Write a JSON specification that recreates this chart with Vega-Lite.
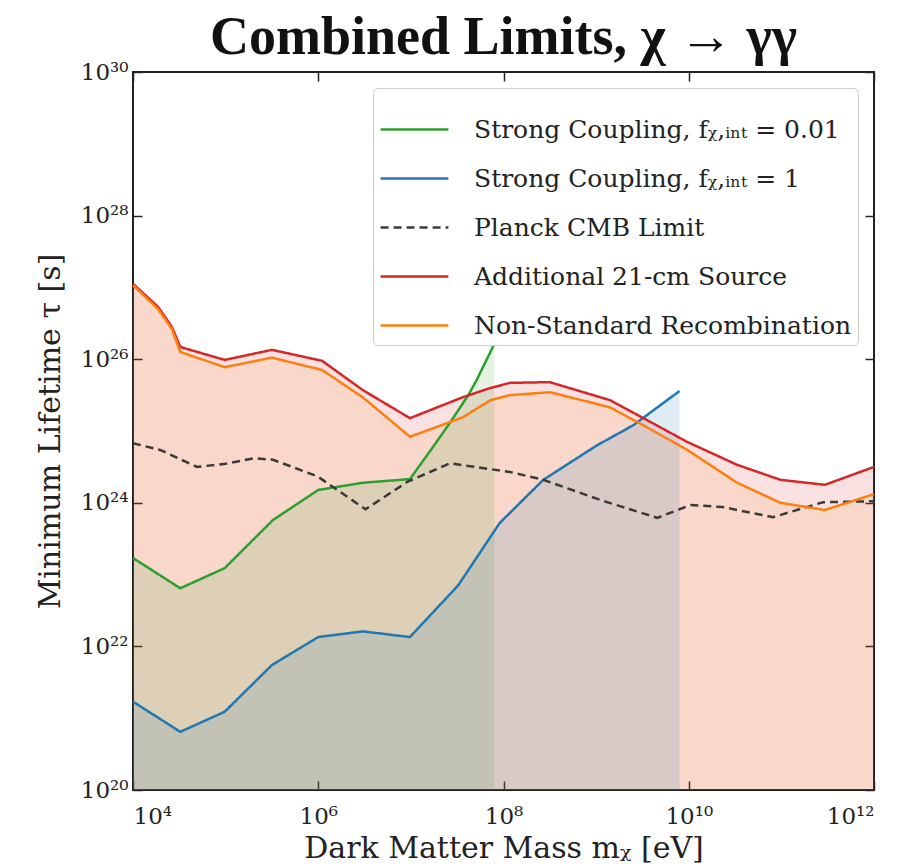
{
  "$schema": "https://vega.github.io/schema/vega-lite/v6.json",
  "autosize": "none",
  "width": 741,
  "height": 718,
  "padding": {"left": 133, "top": 72, "right": 26, "bottom": 77},
  "background": "white",
  "title": {
    "text": "Combined Limits, χ → γγ",
    "font": "Liberation Serif",
    "fontSize": 54,
    "fontWeight": "bold",
    "color": "#111111",
    "anchor": "middle",
    "offset": -4
  },
  "config": {
    "view": {"stroke": "#222222", "strokeWidth": 2},
    "axis": {
      "domain": false,
      "grid": false,
      "tickColor": "#222222",
      "tickWidth": 1.5,
      "tickSize": -9,
      "labelFont": "DejaVu Serif",
      "labelFontSize": 23,
      "labelColor": "#222222",
      "titleFont": "DejaVu Serif",
      "titleFontSize": 30,
      "titleFontWeight": "normal",
      "titleColor": "#222222"
    },
    "legend": {
      "orient": "top-right",
      "offset": 16,
      "title": null,
      "labelFont": "DejaVu Serif",
      "labelFontSize": 25,
      "labelColor": "#222222",
      "labelLimit": 600,
      "labelOffset": 24,
      "symbolType": "stroke",
      "symbolSize": 4600,
      "symbolStrokeWidth": 2.5,
      "rowPadding": -5,
      "padding": 6,
      "strokeColor": "#cccccc",
      "fillColor": "white",
      "cornerRadius": 5
    }
  },
  "data": {
    "values": [
      {"series": "Strong Coupling, fᵪ,ᵢₙₜ = 0.01", "m": 1e4, "tau": 1.7e23},
      {"series": "Strong Coupling, fᵪ,ᵢₙₜ = 0.01", "m": 3.24e4, "tau": 6.46e22},
      {"series": "Strong Coupling, fᵪ,ᵢₙₜ = 0.01", "m": 9.77e4, "tau": 1.23e23},
      {"series": "Strong Coupling, fᵪ,ᵢₙₜ = 0.01", "m": 3.24e5, "tau": 5.75e23},
      {"series": "Strong Coupling, fᵪ,ᵢₙₜ = 0.01", "m": 1e6, "tau": 1.51e24},
      {"series": "Strong Coupling, fᵪ,ᵢₙₜ = 0.01", "m": 3.02e6, "tau": 1.9e24},
      {"series": "Strong Coupling, fᵪ,ᵢₙₜ = 0.01", "m": 9.77e6, "tau": 2.14e24},
      {"series": "Strong Coupling, fᵪ,ᵢₙₜ = 0.01", "m": 1.74e7, "tau": 6.03e24},
      {"series": "Strong Coupling, fᵪ,ᵢₙₜ = 0.01", "m": 2.63e7, "tau": 1.29e25},
      {"series": "Strong Coupling, fᵪ,ᵢₙₜ = 0.01", "m": 4.17e7, "tau": 3.16e25},
      {"series": "Strong Coupling, fᵪ,ᵢₙₜ = 0.01", "m": 5.13e7, "tau": 5.13e25},
      {"series": "Strong Coupling, fᵪ,ᵢₙₜ = 0.01", "m": 7.94e7, "tau": 1.62e26},

      {"series": "Strong Coupling, fᵪ,ᵢₙₜ = 1", "m": 1e4, "tau": 1.7e21},
      {"series": "Strong Coupling, fᵪ,ᵢₙₜ = 1", "m": 3.24e4, "tau": 6.46e20},
      {"series": "Strong Coupling, fᵪ,ᵢₙₜ = 1", "m": 9.77e4, "tau": 1.23e21},
      {"series": "Strong Coupling, fᵪ,ᵢₙₜ = 1", "m": 3.16e5, "tau": 5.5e21},
      {"series": "Strong Coupling, fᵪ,ᵢₙₜ = 1", "m": 1e6, "tau": 1.35e22},
      {"series": "Strong Coupling, fᵪ,ᵢₙₜ = 1", "m": 3.02e6, "tau": 1.62e22},
      {"series": "Strong Coupling, fᵪ,ᵢₙₜ = 1", "m": 9.77e6, "tau": 1.35e22},
      {"series": "Strong Coupling, fᵪ,ᵢₙₜ = 1", "m": 3.24e7, "tau": 7.08e22},
      {"series": "Strong Coupling, fᵪ,ᵢₙₜ = 1", "m": 9.12e7, "tau": 5.25e23},
      {"series": "Strong Coupling, fᵪ,ᵢₙₜ = 1", "m": 2.69e8, "tau": 2.09e24},
      {"series": "Strong Coupling, fᵪ,ᵢₙₜ = 1", "m": 1.02e9, "tau": 6.31e24},
      {"series": "Strong Coupling, fᵪ,ᵢₙₜ = 1", "m": 2.51e9, "tau": 1.2e25},
      {"series": "Strong Coupling, fᵪ,ᵢₙₜ = 1", "m": 7.94e9, "tau": 3.6e25},

      {"series": "Planck CMB Limit", "m": 1e4, "tau": 6.76e24},
      {"series": "Planck CMB Limit", "m": 2.0e4, "tau": 5.4e24},
      {"series": "Planck CMB Limit", "m": 4.9e4, "tau": 3.16e24},
      {"series": "Planck CMB Limit", "m": 1.0e5, "tau": 3.5e24},
      {"series": "Planck CMB Limit", "m": 2.0e5, "tau": 4.17e24},
      {"series": "Planck CMB Limit", "m": 3.24e5, "tau": 3.98e24},
      {"series": "Planck CMB Limit", "m": 9.77e5, "tau": 2.34e24},
      {"series": "Planck CMB Limit", "m": 3.24e6, "tau": 8.13e23},
      {"series": "Planck CMB Limit", "m": 9.12e6, "tau": 1.95e24},
      {"series": "Planck CMB Limit", "m": 2.63e7, "tau": 3.55e24},
      {"series": "Planck CMB Limit", "m": 1.17e8, "tau": 2.69e24},
      {"series": "Planck CMB Limit", "m": 2.69e8, "tau": 2.09e24},
      {"series": "Planck CMB Limit", "m": 1.1e9, "tau": 1.1e24},
      {"series": "Planck CMB Limit", "m": 4.57e9, "tau": 6.17e23},
      {"series": "Planck CMB Limit", "m": 1.05e10, "tau": 9.33e23},
      {"series": "Planck CMB Limit", "m": 2.34e10, "tau": 8.71e23},
      {"series": "Planck CMB Limit", "m": 8.13e10, "tau": 6.31e23},
      {"series": "Planck CMB Limit", "m": 2.82e11, "tau": 1.02e24},
      {"series": "Planck CMB Limit", "m": 1e12, "tau": 1.05e24},

      {"series": "Additional 21-cm Source", "m": 1e4, "tau": 1.12e27},
      {"series": "Additional 21-cm Source", "m": 1.86e4, "tau": 5.37e26},
      {"series": "Additional 21-cm Source", "m": 2.63e4, "tau": 2.82e26},
      {"series": "Additional 21-cm Source", "m": 3.24e4, "tau": 1.48e26},
      {"series": "Additional 21-cm Source", "m": 9.77e4, "tau": 9.77e25},
      {"series": "Additional 21-cm Source", "m": 3.16e5, "tau": 1.35e26},
      {"series": "Additional 21-cm Source", "m": 1.1e6, "tau": 9.5e25},
      {"series": "Additional 21-cm Source", "m": 3.02e6, "tau": 3.72e25},
      {"series": "Additional 21-cm Source", "m": 9.77e6, "tau": 1.51e25},
      {"series": "Additional 21-cm Source", "m": 3.63e7, "tau": 2.95e25},
      {"series": "Additional 21-cm Source", "m": 7.24e7, "tau": 3.98e25},
      {"series": "Additional 21-cm Source", "m": 1.17e8, "tau": 4.68e25},
      {"series": "Additional 21-cm Source", "m": 3.16e8, "tau": 4.79e25},
      {"series": "Additional 21-cm Source", "m": 1.41e9, "tau": 2.69e25},
      {"series": "Additional 21-cm Source", "m": 3.24e9, "tau": 1.51e25},
      {"series": "Additional 21-cm Source", "m": 9.55e9, "tau": 7.08e24},
      {"series": "Additional 21-cm Source", "m": 3.31e10, "tau": 3.39e24},
      {"series": "Additional 21-cm Source", "m": 9.77e10, "tau": 2.09e24},
      {"series": "Additional 21-cm Source", "m": 2.95e11, "tau": 1.78e24},
      {"series": "Additional 21-cm Source", "m": 1e12, "tau": 3.16e24},

      {"series": "Non-Standard Recombination", "m": 1e4, "tau": 1.07e27},
      {"series": "Non-Standard Recombination", "m": 1.86e4, "tau": 5.01e26},
      {"series": "Non-Standard Recombination", "m": 2.63e4, "tau": 2.63e26},
      {"series": "Non-Standard Recombination", "m": 3.24e4, "tau": 1.26e26},
      {"series": "Non-Standard Recombination", "m": 9.77e4, "tau": 7.76e25},
      {"series": "Non-Standard Recombination", "m": 3.16e5, "tau": 1.05e26},
      {"series": "Non-Standard Recombination", "m": 1.1e6, "tau": 7.08e25},
      {"series": "Non-Standard Recombination", "m": 3.02e6, "tau": 2.95e25},
      {"series": "Non-Standard Recombination", "m": 9.77e6, "tau": 8.32e24},
      {"series": "Non-Standard Recombination", "m": 3.63e7, "tau": 1.55e25},
      {"series": "Non-Standard Recombination", "m": 7.24e7, "tau": 2.69e25},
      {"series": "Non-Standard Recombination", "m": 1.17e8, "tau": 3.16e25},
      {"series": "Non-Standard Recombination", "m": 3.16e8, "tau": 3.47e25},
      {"series": "Non-Standard Recombination", "m": 1.41e9, "tau": 2.14e25},
      {"series": "Non-Standard Recombination", "m": 3.24e9, "tau": 1.2e25},
      {"series": "Non-Standard Recombination", "m": 9.55e9, "tau": 5.5e24},
      {"series": "Non-Standard Recombination", "m": 3.31e10, "tau": 1.91e24},
      {"series": "Non-Standard Recombination", "m": 9.77e10, "tau": 1.0e24},
      {"series": "Non-Standard Recombination", "m": 2.95e11, "tau": 7.94e23},
      {"series": "Non-Standard Recombination", "m": 1e12, "tau": 1.32e24}
    ]
  },
  "encoding": {
    "x": {
      "field": "m",
      "type": "quantitative",
      "scale": {"type": "log", "domain": [1e4, 1e12], "nice": false}
    },
    "y": {
      "field": "tau",
      "type": "quantitative",
      "scale": {"type": "log", "domain": [1e20, 1e30], "nice": false}
    }
  },
  "layer": [
    {
      "transform": [{"filter": "datum.series == 'Additional 21-cm Source'"}],
      "mark": {"type": "area", "color": "#d62728", "opacity": 0.14},
      "encoding": {
        "x": {"field": "m", "type": "quantitative", "axis": null},
        "y": {"field": "tau", "type": "quantitative", "axis": null, "stack": null},
        "y2": {"datum": 1e20}
      }
    },
    {
      "transform": [{"filter": "datum.series == 'Non-Standard Recombination'"}],
      "mark": {"type": "area", "color": "#ff7f0e", "opacity": 0.1},
      "encoding": {
        "x": {"field": "m", "type": "quantitative", "axis": null},
        "y": {"field": "tau", "type": "quantitative", "axis": null, "stack": null},
        "y2": {"datum": 1e20}
      }
    },
    {
      "transform": [{"filter": "datum.series == 'Strong Coupling, fᵪ,ᵢₙₜ = 0.01'"}],
      "mark": {"type": "area", "color": "#2ca02c", "opacity": 0.13},
      "encoding": {
        "x": {"field": "m", "type": "quantitative", "axis": null},
        "y": {"field": "tau", "type": "quantitative", "axis": null, "stack": null},
        "y2": {"datum": 1e20}
      }
    },
    {
      "transform": [{"filter": "datum.series == 'Strong Coupling, fᵪ,ᵢₙₜ = 1'"}],
      "mark": {"type": "area", "color": "#1f77b4", "opacity": 0.14},
      "encoding": {
        "x": {"field": "m", "type": "quantitative", "axis": null},
        "y": {"field": "tau", "type": "quantitative", "axis": null, "stack": null},
        "y2": {"datum": 1e20}
      }
    },
    {
      "mark": {"type": "line", "strokeWidth": 2.5},
      "encoding": {
        "x": {
          "field": "m",
          "type": "quantitative",
          "title": "Dark Matter Mass mᵪ [eV]",
          "axis": {
            "orient": "bottom",
            "values": [1e4, 1e6, 1e8, 1e10, 1e12],
            "labelPadding": 24,
            "titlePadding": 5,
            "labelExpr": "'10' + replace(replace(replace(replace(replace(replace(replace(replace(format(round(log(datum.value)/LN10),'d'),'0','⁰'),'1','¹'),'2','²'),'2','²'),'3','³'),'4','⁴'),'6','⁶'),'8','⁸')"
          }
        },
        "y": {
          "field": "tau",
          "type": "quantitative",
          "title": "Minimum Lifetime τ [s]",
          "axis": {
            "orient": "left",
            "values": [1e20, 1e22, 1e24, 1e26, 1e28, 1e30],
            "labelPadding": 14,
            "titlePadding": 15,
            "labelExpr": "'10' + replace(replace(replace(replace(replace(replace(replace(replace(format(round(log(datum.value)/LN10),'d'),'0','⁰'),'1','¹'),'2','²'),'2','²'),'3','³'),'4','⁴'),'6','⁶'),'8','⁸')"
          }
        },
        "color": {
          "field": "series",
          "type": "nominal",
          "scale": {
            "domain": [
              "Strong Coupling, fᵪ,ᵢₙₜ = 0.01",
              "Strong Coupling, fᵪ,ᵢₙₜ = 1",
              "Planck CMB Limit",
              "Additional 21-cm Source",
              "Non-Standard Recombination"
            ],
            "range": ["#2ca02c", "#1f77b4", "#3a3a3a", "#d62728", "#ff7f0e"]
          }
        },
        "strokeDash": {
          "field": "series",
          "type": "nominal",
          "scale": {
            "domain": [
              "Strong Coupling, fᵪ,ᵢₙₜ = 0.01",
              "Strong Coupling, fᵪ,ᵢₙₜ = 1",
              "Planck CMB Limit",
              "Additional 21-cm Source",
              "Non-Standard Recombination"
            ],
            "range": [[1, 0], [1, 0], [8, 5], [1, 0], [1, 0]]
          }
        }
      }
    },
    {
      "transform": [{"filter": "datum.series == 'Planck CMB Limit'"}],
      "mark": {"type": "line", "opacity": 0},
      "encoding": {
        "x": {
          "field": "m",
          "type": "quantitative",
          "axis": {"orient": "top", "values": [1e4, 1e6, 1e8, 1e10, 1e12], "labels": false, "title": null}
        },
        "y": {
          "field": "tau",
          "type": "quantitative",
          "axis": {"orient": "right", "values": [1e20, 1e22, 1e24, 1e26, 1e28, 1e30], "labels": false, "title": null}
        }
      }
    }
  ],
  "resolve": {"axis": {"x": "independent", "y": "independent"}}
}
